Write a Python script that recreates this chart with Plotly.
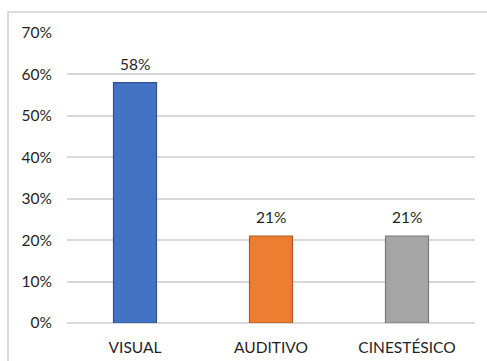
import plotly.graph_objects as go

categories = ["VISUAL", "AUDITIVO", "CINESTÉSICO"]
values = [0.58, 0.21, 0.21]
fill_colors = ["#4472C4", "#ED7D31", "#A5A5A5"]
line_colors = ["#2F528F", "#AE5A21", "#787878"]
y_ticks = [0, 0.1, 0.2, 0.3, 0.4, 0.5, 0.6, 0.7]

font_family = "Lato, 'Open Sans', sans-serif"
text_color = "#1F1F1F"

fig = go.Figure(
    go.Bar(
        x=categories,
        y=values,
        width=0.316,
        marker=dict(color=fill_colors, line=dict(color=line_colors, width=1.2)),
        hoverinfo="skip",
    )
)

# value labels above each bar
for cat, val in zip(categories, values):
    fig.add_annotation(
        x=cat, y=val, text=f"{val:.0%}", showarrow=False,
        yanchor="bottom", yshift=8,
        font=dict(family=font_family, size=15.5, color=text_color),
    )

# chart frame
fig.add_shape(
    type="rect", xref="paper", yref="paper",
    x0=-0.1446, x1=1.2, y0=-0.3, y1=1.0724,
    line=dict(color="#D0D0D0", width=1.5), fillcolor="rgba(0,0,0,0)",
    layer="below",
)

fig.update_layout(
    width=487, height=361,
    margin=dict(l=67, r=12, t=33, b=38),
    paper_bgcolor="white", plot_bgcolor="white",
    showlegend=False,
    font=dict(family=font_family, size=15.5, color=text_color),
    xaxis=dict(
        showgrid=False, showline=False, ticks="", zeroline=False,
        ticklabelstandoff=13, automargin=False,
        tickfont=dict(family=font_family, size=15.5, color=text_color),
    ),
    yaxis=dict(
        range=[0, 0.7], tickvals=y_ticks, tickformat=".0%",
        showgrid=True, gridcolor="#D9D9D9", gridwidth=1.5,
        zeroline=True, zerolinecolor="#D9D9D9", zerolinewidth=1.5,
        showline=False, ticks="", ticklabelstandoff=14, automargin=False,
        tickfont=dict(family=font_family, size=15.5, color=text_color),
    ),
)

fig.write_html("out.html")
